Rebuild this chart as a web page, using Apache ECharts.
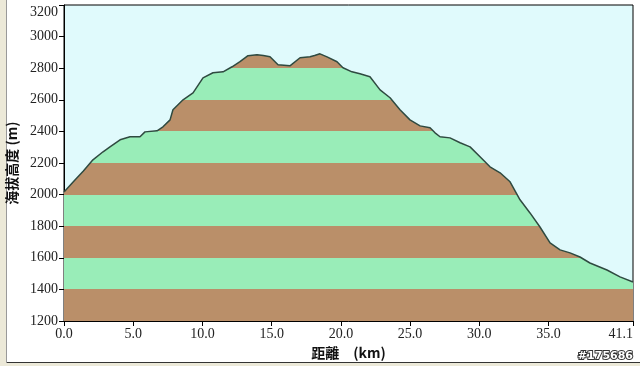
<!DOCTYPE html>
<html><head><meta charset="utf-8">
<script src="https://cdn.jsdelivr.net/npm/echarts@6/dist/echarts.min.js"></script>
<style>html,body{margin:0;padding:0;background:#fff;}#c{width:640px;height:366px;}</style>
</head><body><div id="c"></div>
<script>
const distanceKm = [0.0,0.79,1.4,2.09,2.82,3.32,4.05,4.77,5.49,5.85,6.72,7.15,7.66,7.87,8.6,9.32,10.04,10.76,11.49,12.14,12.71,13.29,13.94,14.4,14.88,15.1,15.46,16.32,17.05,17.77,18.1,18.49,19.0,19.72,20.15,20.8,21.38,22.1,22.83,23.55,24.27,24.99,25.72,26.44,26.8,27.16,27.88,28.61,29.33,30.05,30.77,31.5,32.22,32.94,33.66,34.38,35.11,35.83,36.55,37.27,37.99,39.22,40.16,41.1];
const elevationM = [2017,2093,2150,2220,2271,2302,2347,2366,2366,2397,2404,2429,2473,2537,2600,2644,2739,2771,2777,2809,2841,2879,2885,2880,2872,2853,2822,2815,2866,2872,2880,2891,2872,2841,2803,2777,2765,2746,2663,2613,2537,2473,2435,2423,2391,2366,2359,2328,2302,2239,2176,2138,2081,1967,1884,1795,1694,1650,1631,1605,1567,1523,1479,1447];
const xTicks = [0,5,10,15,20,25,30,35,41.1];
const yTicks = [1200,1400,1600,1800,2000,2200,2400,2600,2800,3000,3200];
const bandEdges = [1200,1400,1600,1800,2000,2200,2400,2600,2800,3000,3200];
const bandColors = ['#BA8F69','#99EDB8'];

const chart = echarts.init(document.getElementById('c'));
const pieces = [];
for (let i = 0; i < bandEdges.length - 1; i++) {
  pieces.push({gte: bandEdges[i], lt: bandEdges[i+1], color: bandColors[i % 2]});
}
const pts = distanceKm.map((d, i) => [d, elevationM[i]]);
const labelFont = {fontFamily: 'Liberation Serif', fontSize: 14, color: '#222'};
chart.setOption({
  animation: false,
  backgroundColor: '#fff',
  graphic: [
    {type: 'rect', left: 0, top: 0, shape: {width: 6, height: 366}, style: {fill: '#ECE9D8'}, silent: true},
    {type: 'rect', left: 6, top: 363, shape: {width: 634, height: 3}, style: {fill: '#ECE9D8'}, silent: true},
    {type: 'line', shape: {x1: 6, y1: 362.5, x2: 640, y2: 362.5}, style: {stroke: '#333', lineWidth: 1}, silent: true},
    {type: 'line', shape: {x1: 6.5, y1: 0, x2: 6.5, y2: 363}, style: {stroke: '#999', lineWidth: 1}, silent: true},
    {type: 'text', right: 6, top: 350, style: {text: '#175686', fontFamily: 'DejaVu Sans', fontSize: 11, fontWeight: 'bold', fill: '#fff', stroke: '#333', lineWidth: 2}, silent: true}
  ],
  grid: {left: 64, right: 7, top: 5, bottom: 45, outerBoundsMode: 'none', containLabel: false, show: true, backgroundColor: '#E0FAFC', borderColor: '#000', borderWidth: 1},
  visualMap: {type: 'piecewise', show: false, dimension: 1, seriesIndex: 0, pieces: pieces},
  xAxis: {
    type: 'value', min: 0, max: 41.1,
    name: '距離　(km)', nameLocation: 'middle', nameGap: 24,
    nameTextStyle: {fontFamily: 'Noto Sans CJK TC', fontWeight: 'bold', fontSize: 14, color: '#111'},
    axisLine: {lineStyle: {color: '#000', width: 1}},
    axisTick: {show: true, length: 5, lineStyle: {color: '#000'}, customValues: xTicks},
    axisLabel: Object.assign({margin: 6, customValues: xTicks, alignMaxLabel: 'right', formatter: v => v.toFixed(1)}, labelFont),
    splitLine: {show: false}
  },
  yAxis: {
    type: 'value', min: 1200, max: 3200, interval: 200,
    name: '海拔高度 (m)', nameLocation: 'middle', nameGap: 32, nameRotate: 90,
    nameTextStyle: {fontFamily: 'Noto Sans CJK TC', fontWeight: 'bold', fontSize: 14, color: '#111'},
    axisLine: {show: true, lineStyle: {color: '#000', width: 1}},
    axisTick: {show: true, length: 5, lineStyle: {color: '#000'}},
    axisLabel: Object.assign({margin: 6, verticalAlignMaxLabel: 'top', formatter: v => String(v)}, labelFont),
    splitLine: {show: false}
  },
  series: [
    {type: 'line', data: pts, symbol: 'none', lineStyle: {width: 0}, areaStyle: {opacity: 1}, z: 2},
    {type: 'line', data: pts, symbol: 'none', lineStyle: {color: '#2F4A40', width: 1.5}, itemStyle: {color: '#2F4A40'}, z: 3}
  ]
});
</script></body></html>
